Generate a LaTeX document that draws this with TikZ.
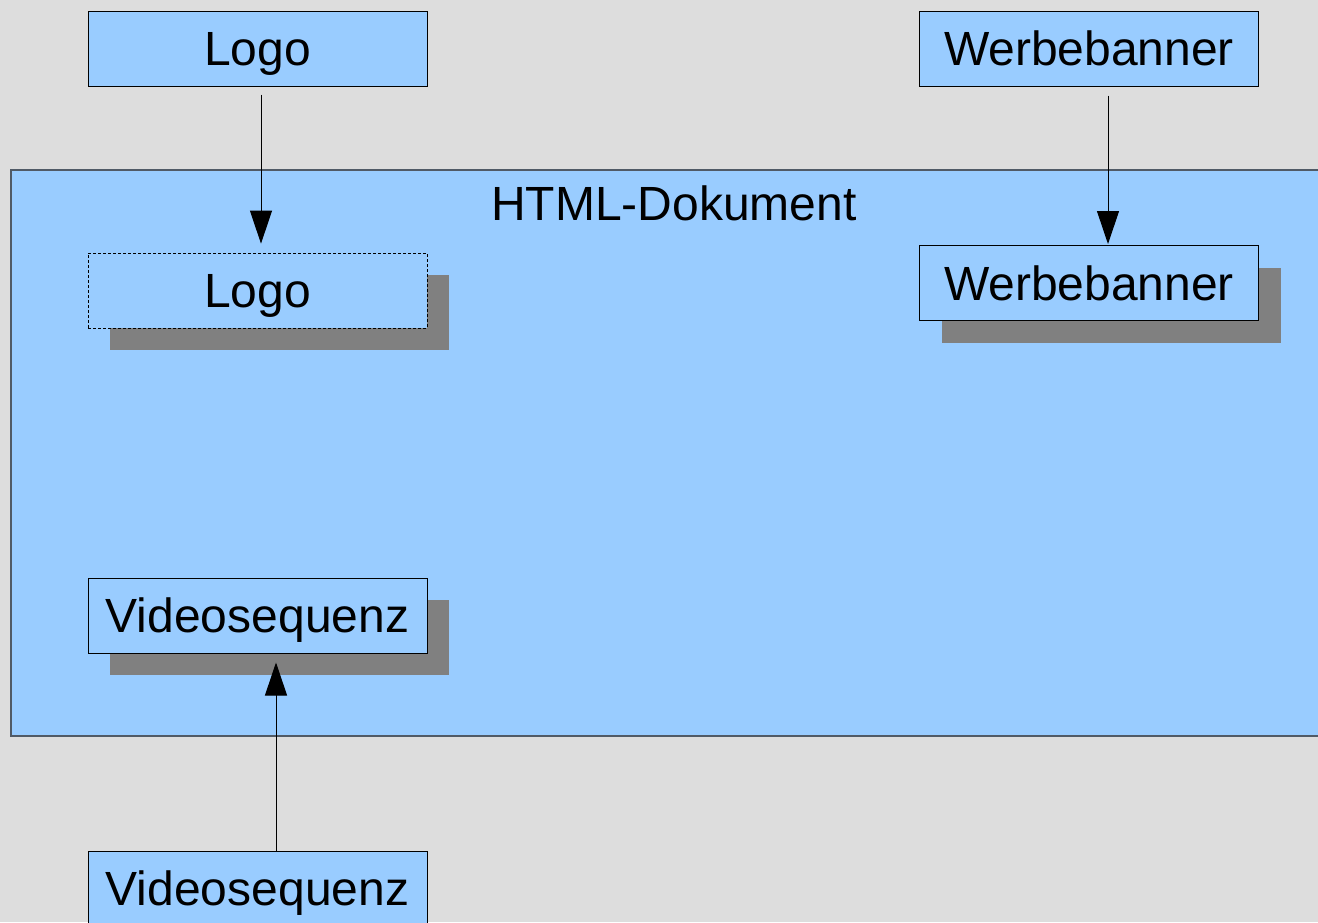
\documentclass[tikz,border=0pt]{standalone}
\usepackage{fontspec}
\setmainfont{Liberation Sans}
\usetikzlibrary{arrows.meta,shadows}
\definecolor{canvasgray}{HTML}{DDDDDD}
\definecolor{boxblue}{HTML}{99CCFF}
\definecolor{shadowgray}{HTML}{808080}
\definecolor{pageedge}{HTML}{505A66}
\tikzset{
  labelfont/.style={font=\fontsize{48}{58}\selectfont},
  elem/.style={rectangle, draw=black, line width=1pt, fill=boxblue,
    minimum width=339pt, minimum height=75pt, inner sep=0pt,
    text height=34pt, text depth=0pt, labelfont},
  shadowed/.style={drop shadow={shadow xshift=22pt, shadow yshift=-22pt,
    fill=shadowgray, opacity=1}},
  placeholder/.style={dash pattern=on 3pt off 2pt, line width=0.8pt},
  link/.style={draw=black, line width=1pt,
    -{Triangle[length=33pt,width=22pt]}}
}
\begin{document}
\begin{tikzpicture}[x=1pt,y=-1pt]
  \useasboundingbox (0,0) rectangle (1318,922);
  \clip (0,0) rectangle (1318,922);
  \fill[canvasgray] (0,0) rectangle (1318,922);

  % the page area
  \draw[fill=boxblue, draw=pageedge, line width=1.5pt] (11,170) rectangle (1340,736);
  \node[labelfont, anchor=base] (doc) at (674,220) {HTML-Dokument};

  % source elements outside the page
  \node[elem] (logoSrc)   at (257.5,48.5)  {Logo};
  \node[elem] (bannerSrc) at (1089,48.5)   {Werbebanner};
  \node[elem] (videoSrc)  at (257.5,888.5) {Videosequenz};

  % elements placed inside the page
  \node[elem, shadowed, placeholder] (logoIn) at (257.5,290.5) {Logo};
  \node[elem, shadowed] (bannerIn) at (1089,283)   {Werbebanner};
  \node[elem, shadowed] (videoIn)  at (257.5,615.5) {Videosequenz};

  % insertion arrows
  \draw[link] ([xshift=3.5pt,yshift=-8pt]logoSrc.south) -- ([xshift=3.5pt,yshift=9pt]logoIn.north);
  \draw[link] ([xshift=19pt,yshift=-9pt]bannerSrc.south) -- ([xshift=19pt,yshift=1pt]bannerIn.north);
  \draw[link] ([xshift=18.5pt]videoSrc.north) -- ([xshift=18.5pt,yshift=-9pt]videoIn.south);
\end{tikzpicture}
\end{document}
